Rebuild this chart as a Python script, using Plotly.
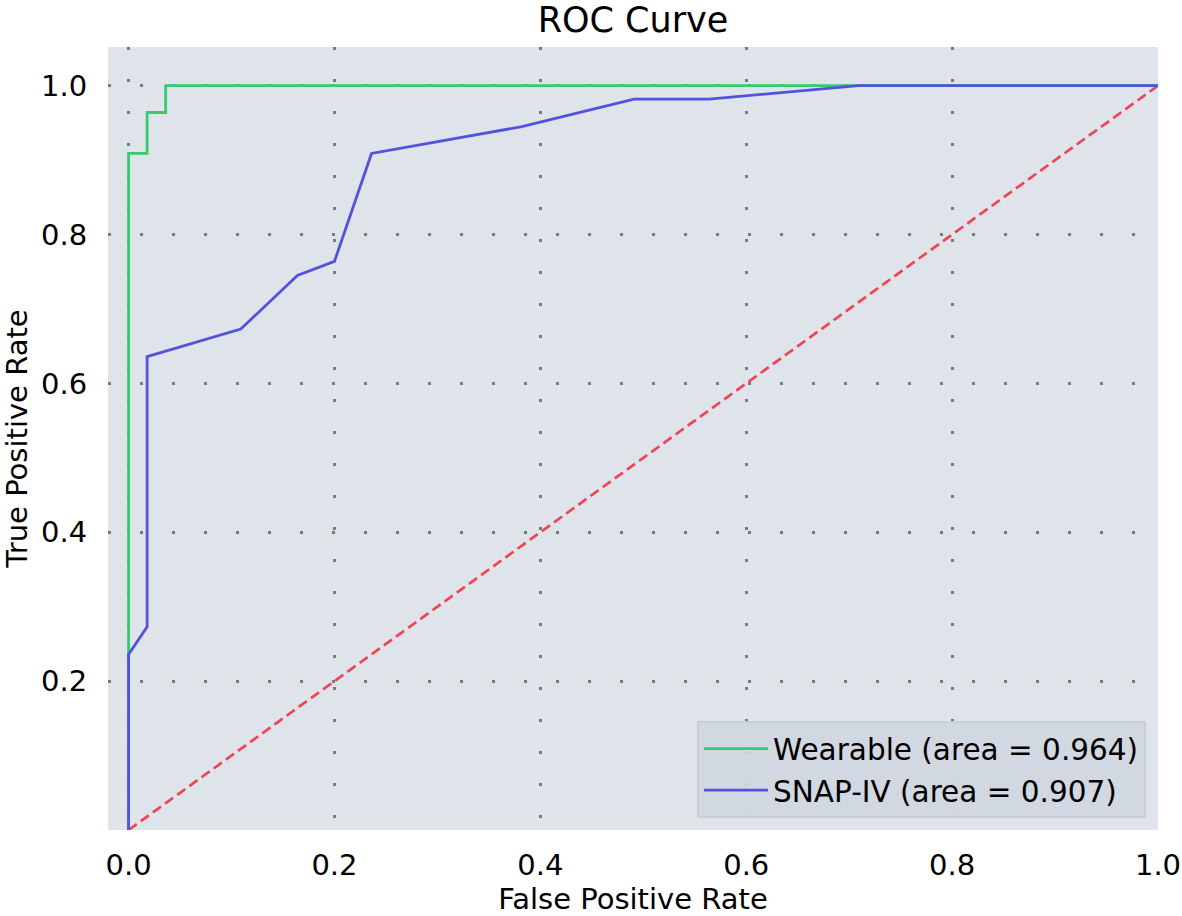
import plotly.graph_objects as go

# Wearable ROC curve
wear_fpr = [0.0, 0.0, 0.0, 0.018, 0.018, 0.036, 0.036, 1.0]
wear_tpr = [0.0, 0.236, 0.909, 0.909, 0.964, 0.964, 1.0, 1.0]
wear_label = "Wearable (area = 0.964)"

# SNAP-IV ROC curve
snap_fpr = [0.0, 0.0, 0.018, 0.018, 0.109, 0.164, 0.200, 0.236, 0.382, 0.491, 0.564, 0.709, 1.0]
snap_tpr = [0.0, 0.236, 0.273, 0.636, 0.673, 0.745, 0.764, 0.909, 0.945, 0.982, 0.982, 1.0, 1.0]
snap_label = "SNAP-IV (area = 0.907)"

# chance line
chance_x = [0.0, 1.0]
chance_y = [0.0, 1.0]

x_ticks = [0.0, 0.2, 0.4, 0.6, 0.8, 1.0]
y_ticks = [0.2, 0.4, 0.6, 0.8, 1.0]

FONT = "DejaVu Sans"
W, H = 1182, 916

fig = go.Figure()
fig.add_trace(go.Scatter(x=chance_x, y=chance_y, mode="lines", showlegend=False,
                         line=dict(color="#ee4455", width=2.7, dash="10px,5px")))
fig.add_trace(go.Scatter(x=wear_fpr, y=wear_tpr, mode="lines", name=wear_label,
                         line=dict(color="#35cc6e", width=2.8)))
fig.add_trace(go.Scatter(x=snap_fpr, y=snap_tpr, mode="lines", name=snap_label,
                         line=dict(color="#5252dd", width=2.8)))

fig.update_layout(
    width=W, height=H,
    margin=dict(l=108, r=24, t=47, b=86, autoexpand=False),
    paper_bgcolor="white",
    plot_bgcolor="#dfe3ea",
    font=dict(family=FONT, size=29, color="black"),
    title=dict(text="ROC Curve", x=(108 + 1158) / 2 / W, xanchor="center",
               y=1 - 20 / H, yanchor="middle", font=dict(size=35, family=FONT)),
    legend=dict(x=0.9886, y=0.0153, xanchor="right", yanchor="bottom",
                bgcolor="rgba(208,214,224,0.9)", bordercolor="#c8ced8", borderwidth=2,
                font=dict(size=29.5, family=FONT), tracegroupgap=2, itemwidth=64),
)
fig.update_xaxes(range=[-0.02, 1.0], tickvals=x_ticks, tickformat=".1f",
                 showgrid=True, gridcolor="#7a7a7a", gridwidth=3, griddash="3px,29px",
                 zeroline=False, showline=False, ticks="outside", ticklen=9,
                 tickcolor="rgba(0,0,0,0)", automargin=True,
                 title=dict(text="False Positive Rate", font=dict(size=29), standoff=10))
fig.update_yaxes(range=[0.0, 1.052], tickvals=y_ticks, tickformat=".1f",
                 showgrid=True, gridcolor="#7a7a7a", gridwidth=3, griddash="3px,29px",
                 zeroline=False, showline=False, ticks="outside", ticklen=14,
                 tickcolor="rgba(0,0,0,0)", automargin=True,
                 title=dict(text="True Positive Rate", font=dict(size=29), standoff=14))

fig.write_html("out.html", config={"displayModeBar": False},
               post_script="document.body.style.margin='0px';")
